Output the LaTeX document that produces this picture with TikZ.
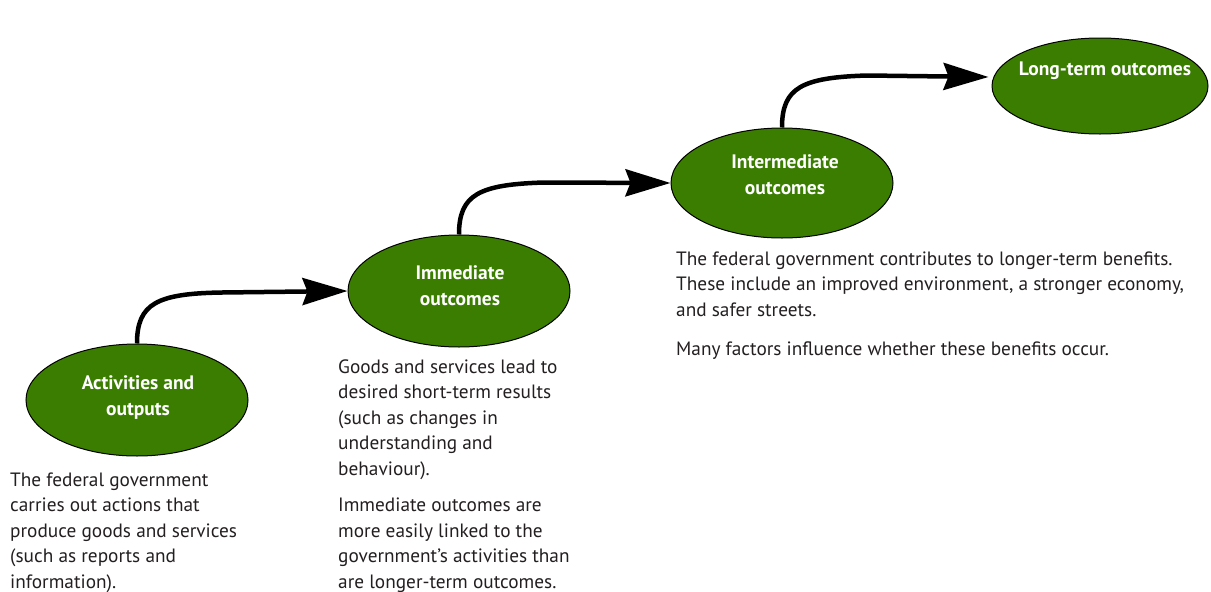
\documentclass[tikz,border=0pt]{standalone}
\usepackage{fontspec}
\setmainfont{PT Sans}
\usetikzlibrary{shapes.geometric,arrows.meta,calc}
\definecolor{stagegreen}{RGB}{58,125,0}
\definecolor{bodytext}{RGB}{35,31,32}
\begin{document}
\begin{tikzpicture}[x=1pt,y=-1pt,
  stage/.style={ellipse, draw=black, line width=1pt, fill=stagegreen, minimum width=222pt, minimum height=112pt, inner sep=0pt},
  stagelabel/.style={text=white, font=\bfseries\fontsize{19.5}{26}\selectfont, align=center, inner sep=0pt},
  desc/.style={text=bodytext, font=\fontsize{19.3}{25.4}\selectfont, align=left, anchor=base west, inner sep=0pt},
  conn/.style={line width=4.5pt, -{Stealth[length=45pt,width=27pt,inset=5pt]}}]
\useasboundingbox (0,0) rectangle (1211,592);

% stages
\node[stage] (act) at (137,400) {};
\node[stage] (imm) at (459,291) {};
\node[stage, minimum height=110pt] (inter) at (782,183) {};
\node[stage, minimum width=216pt, minimum height=96pt] (lt) at (1100,86) {};

\node[stagelabel] (actL) at (138,398) {Activities and\\outputs};
\node[stagelabel] (immL) at (460,286) {Immediate\\outcomes};
\node[stagelabel] (interL) at (785,175) {Intermediate\\outcomes};
\node[stagelabel] (ltL) at (1105,71) {Long-term outcomes};

% connectors
\draw[conn] (act.north) .. controls ($(act.north)+(0,-40)$) and ($(act.north)+(20,-50)$) .. ($(act.north)+(85,-51)$) -- (imm.west);
\draw[conn] (imm.north) .. controls ($(imm.north)+(0,-40)$) and ($(imm.north)+(20,-50)$) .. ($(imm.north)+(85,-52)$) -- (inter.west);
\coordinate (ltIn) at ($(lt.west)+(-3,-9)$);
\draw[conn] (inter.north) .. controls ($(inter.north)+(0,-40)$) and ($(inter.north)+(20,-50)$) .. ($(inter.north)+(85,-52)$) -- (ltIn);

% descriptions (anchored at the baseline of their last line)
\node[desc] (actD) at (10,588) {The federal government\\carries out actions that\\produce goods and services\\(such as reports and\\information).};
\node[desc] (immD1) at (338,475) {Goods and services lead to\\desired short-term results\\(such as changes in\\understanding and\\behaviour).};
\node[desc] (immD2) at (338,588) {Immediate outcomes are\\more easily linked to the\\government’s activities than\\are longer-term outcomes.};
\node[desc] (interD1) at (676,316) {The federal government contributes to longer-term benefits.\\These include an improved environment, a stronger economy,\\and safer streets.};
\node[desc] (interD2) at (676,355) {Many factors influence whether these benefits occur.};
\end{tikzpicture}
\end{document}
